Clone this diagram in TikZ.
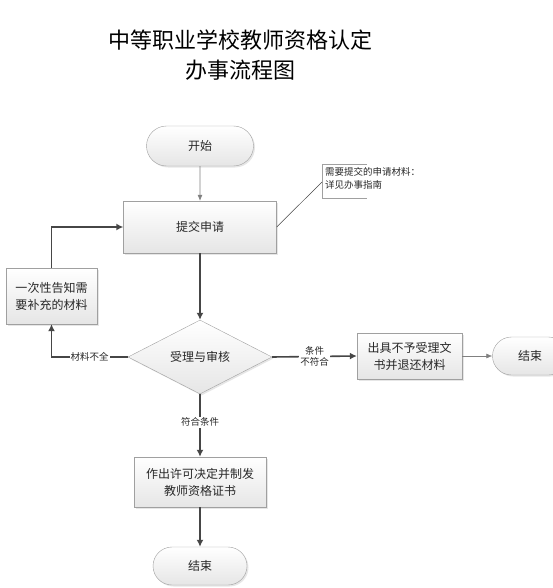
\documentclass[tikz,border=0pt]{standalone}
\usepackage{fontspec}
\setmainfont{Noto Sans CJK SC}
\usetikzlibrary{arrows.meta,shadows,positioning,shapes.geometric,shapes.misc}
\definecolor{edge}{RGB}{160,160,160}
\definecolor{flow}{RGB}{70,70,70}
\definecolor{txt}{RGB}{40,40,40}

\begin{document}
\begin{tikzpicture}[x=1pt,y=-1pt,
    box/.style={draw=edge,top color=white,bottom color=black!10,
      drop shadow={opacity=0.2,shadow xshift=1.5pt,shadow yshift=-1.5pt},
      font=\fontsize{12}{17}\selectfont,text=txt,align=center,inner sep=0pt},
    term/.style={box,rounded rectangle},
    decide/.style={box,diamond,aspect=2},
    thin/.style={draw=edge!80!black,line width=0.6pt,-{Latex[length=6pt,width=5pt]}},
    thick/.style={draw=flow,line width=1.6pt,-{Latex[length=7pt,width=7pt]}},
    lbl/.style={fill=white,inner sep=1pt,font=\fontsize{9.5}{11}\selectfont,text=txt,align=center}]
  \useasboundingbox (0,0) rectangle (553,588);
  \clip (0,0) rectangle (553,588);

  % title
  \node[font=\fontsize{22}{30}\selectfont,align=center] (title) at (240,55)
    {中等职业学校教师资格认定\\办事流程图};

  % main column
  \node[term,minimum width=107pt,minimum height=40pt] (start) at (200,146) {开始};
  \node[box,minimum width=153pt,minimum height=52pt] (submit) at (200,227) {提交申请};
  \node[decide,minimum width=144pt,minimum height=74pt] (check) at (200,357) {受理与审核};
  \node[box,minimum width=132pt,minimum height=50pt] (permit) at (200,482)
    {作出许可决定并制发\\教师资格证书};
  \node[term,minimum width=94pt,minimum height=38pt] (endB) at (200,566) {结束};

  % side boxes
  \node[box,minimum width=91pt,minimum height=56pt] (notice) at (51.5,296)
    {一次性告知需\\要补充的材料};
  \node[box,minimum width=105pt,minimum height=46pt] (reject) at (409.5,356)
    {出具不予受理文\\书并退还材料};
  \node[term,minimum width=75pt,minimum height=38pt] (endR) at (530,356) {结束};

  % note
  \node[anchor=north west,inner sep=0pt,align=left,
    font=\fontsize{9.5}{13}\selectfont,text=txt] (note) at (325,167)
    {需要提交的申请材料：\\详见办事指南};
  \coordinate (noteL) at (322,182);
  \draw[edge,line width=0.6pt] (367,164) -- (322,164) -- (322,198) -- (367,198);
  \draw[flow,line width=0.5pt] (noteL) -- (submit.east);

  % connectors
  \draw[thin] (start) -- (submit);
  \draw[thick] (submit) -- (check.north);
  \draw[thick] (check.west) -| node[lbl,pos=0.25] {材料不全} (notice.south);
  \draw[thick] (notice.north) |- (submit.west);
  \draw[thick] (check.east) -- node[lbl] {条件\\不符合} (reject.west);
  \draw[thin] (reject) -- (endR);
  \draw[thick] (check.south) -- node[lbl,pos=0.45] {符合条件} (permit.north);
  \draw[thick] (permit) -- (endB);
\end{tikzpicture}
\end{document}
